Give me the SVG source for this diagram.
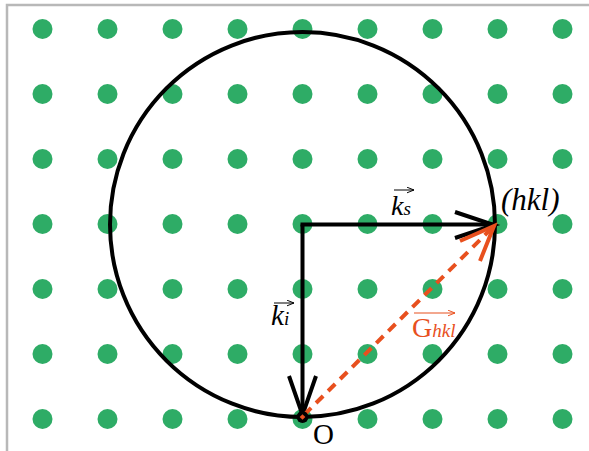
<svg xmlns="http://www.w3.org/2000/svg" width="589" height="451" viewBox="0 0 589 451">
<style>
.dot{fill:#2eac66}
.blk{fill:none;stroke:#000;stroke-width:4}
.red{fill:none;stroke:#e8501e;stroke-width:4}
.lbl{font-family:"Liberation Serif","Times New Roman",serif}
.vec{fill:none;stroke:#000;stroke-width:1}
</style>
<defs>
<marker id="va" viewBox="0 0 10 10" refX="10" refY="5" markerWidth="7" markerHeight="7" orient="auto" markerUnits="userSpaceOnUse">
<path d="M0,1 L10,5 L0,9" fill="none" stroke="#000" stroke-width="1.4"/>
</marker>
<marker id="vr" viewBox="0 0 10 10" refX="10" refY="5" markerWidth="7" markerHeight="7" orient="auto" markerUnits="userSpaceOnUse">
<path d="M0,1 L10,5 L0,9" fill="none" stroke="#e8501e" stroke-width="1.4"/>
</marker>
</defs>
<rect x="0" y="0" width="589" height="451" fill="#fff"/>
<path d="M7,451 V5 H589" fill="none" stroke="#b8b8b8" stroke-width="2.5"/>
<g id="lattice">
<g id="row1"><circle class="dot" cx="42.5" cy="29" r="10"/><circle class="dot" cx="107.5" cy="29" r="10"/><circle class="dot" cx="172.5" cy="29" r="10"/><circle class="dot" cx="237.5" cy="29" r="10"/><circle class="dot" cx="302.5" cy="29" r="10"/><circle class="dot" cx="367.5" cy="29" r="10"/><circle class="dot" cx="432.5" cy="29" r="10"/><circle class="dot" cx="497.5" cy="29" r="10"/><circle class="dot" cx="562.5" cy="29" r="10"/></g>
<g id="row2"><circle class="dot" cx="42.5" cy="94" r="10"/><circle class="dot" cx="107.5" cy="94" r="10"/><circle class="dot" cx="172.5" cy="94" r="10"/><circle class="dot" cx="237.5" cy="94" r="10"/><circle class="dot" cx="302.5" cy="94" r="10"/><circle class="dot" cx="367.5" cy="94" r="10"/><circle class="dot" cx="432.5" cy="94" r="10"/><circle class="dot" cx="497.5" cy="94" r="10"/><circle class="dot" cx="562.5" cy="94" r="10"/></g>
<g id="row3"><circle class="dot" cx="42.5" cy="159" r="10"/><circle class="dot" cx="107.5" cy="159" r="10"/><circle class="dot" cx="172.5" cy="159" r="10"/><circle class="dot" cx="237.5" cy="159" r="10"/><circle class="dot" cx="302.5" cy="159" r="10"/><circle class="dot" cx="367.5" cy="159" r="10"/><circle class="dot" cx="432.5" cy="159" r="10"/><circle class="dot" cx="497.5" cy="159" r="10"/><circle class="dot" cx="562.5" cy="159" r="10"/></g>
<g id="row4"><circle class="dot" cx="42.5" cy="224" r="10"/><circle class="dot" cx="107.5" cy="224" r="10"/><circle class="dot" cx="172.5" cy="224" r="10"/><circle class="dot" cx="237.5" cy="224" r="10"/><circle class="dot" cx="302.5" cy="224" r="10"/><circle class="dot" cx="367.5" cy="224" r="10"/><circle class="dot" cx="432.5" cy="224" r="10"/><circle class="dot" cx="497.5" cy="224" r="10"/><circle class="dot" cx="562.5" cy="224" r="10"/></g>
<g id="row5"><circle class="dot" cx="42.5" cy="289" r="10"/><circle class="dot" cx="107.5" cy="289" r="10"/><circle class="dot" cx="172.5" cy="289" r="10"/><circle class="dot" cx="237.5" cy="289" r="10"/><circle class="dot" cx="302.5" cy="289" r="10"/><circle class="dot" cx="367.5" cy="289" r="10"/><circle class="dot" cx="432.5" cy="289" r="10"/><circle class="dot" cx="497.5" cy="289" r="10"/><circle class="dot" cx="562.5" cy="289" r="10"/></g>
<g id="row6"><circle class="dot" cx="42.5" cy="354" r="10"/><circle class="dot" cx="107.5" cy="354" r="10"/><circle class="dot" cx="172.5" cy="354" r="10"/><circle class="dot" cx="237.5" cy="354" r="10"/><circle class="dot" cx="302.5" cy="354" r="10"/><circle class="dot" cx="367.5" cy="354" r="10"/><circle class="dot" cx="432.5" cy="354" r="10"/><circle class="dot" cx="497.5" cy="354" r="10"/><circle class="dot" cx="562.5" cy="354" r="10"/></g>
<g id="row7"><circle class="dot" cx="42.5" cy="419" r="10"/><circle class="dot" cx="107.5" cy="419" r="10"/><circle class="dot" cx="172.5" cy="419" r="10"/><circle class="dot" cx="237.5" cy="419" r="10"/><circle class="dot" cx="302.5" cy="419" r="10"/><circle class="dot" cx="367.5" cy="419" r="10"/><circle class="dot" cx="432.5" cy="419" r="10"/><circle class="dot" cx="497.5" cy="419" r="10"/><circle class="dot" cx="562.5" cy="419" r="10"/></g>
</g>
<g id="ewald-sphere">
<circle class="blk" cx="302.5" cy="224.5" r="192.5"/>
</g>
<g id="connectors">
<g id="ki">
<path class="blk" d="M302.5,224.5 V415"/>
<path class="blk" d="M289,376 L302.5,415 L316,376"/>
</g>
<g id="ks">
<path class="blk" d="M300.5,224.5 H494"/>
<path class="blk" d="M455,212 L494,225 L455,238"/>
</g>
<g id="G">
<path class="red" d="M304,415 L492,228" stroke-dasharray="10 7"/>
<path class="red" d="M460,241 L494,226 L480,261"/>
</g>
</g>
<g id="origin">
<circle cx="302.5" cy="417" r="6" fill="#000"/>
<rect x="300.5" y="415" width="4" height="4" fill="#e8501e" transform="rotate(45 302.5 417)"/>
<text class="lbl" x="313" y="444" font-size="29">O</text>
</g>
<g id="hkl-point">
<text class="lbl" x="501" y="210" font-size="31" font-style="italic">(hkl)</text>
</g>
<g id="label-ks">
<text class="lbl" x="391" y="215" font-size="28" font-style="italic">k<tspan font-size="19">s</tspan></text>
<path class="vec" d="M394,190 H414" marker-end="url(#va)"/>
</g>
<g id="label-ki">
<text class="lbl" x="271" y="325" font-size="29" font-style="italic">k<tspan font-size="19">i</tspan></text>
<path class="vec" d="M274,303 H294" marker-end="url(#va)"/>
</g>
<g id="label-G">
<text class="lbl" x="412" y="337" font-size="28" fill="#e8501e">G<tspan font-size="19" font-style="italic">hkl</tspan></text>
<path d="M414,313 H455" fill="none" stroke="#e8501e" stroke-width="1.2" marker-end="url(#vr)"/>
</g>
</svg>
